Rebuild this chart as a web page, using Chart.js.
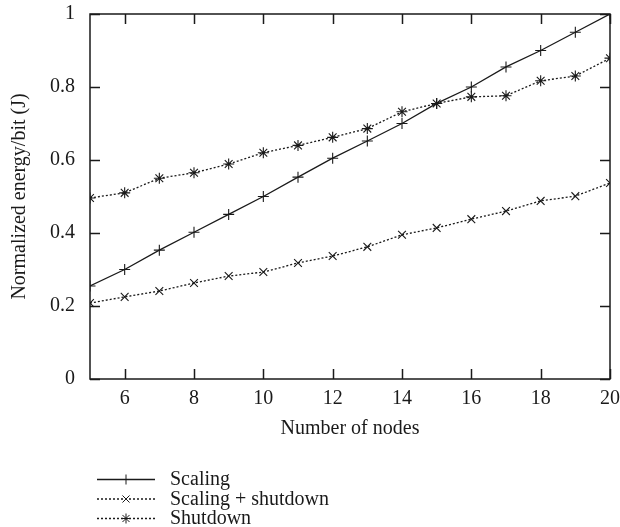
<!DOCTYPE html>
<html>
<head>
<meta charset="utf-8">
<script src="https://cdn.jsdelivr.net/npm/chart.js@4"></script>
<style>
  html, body { margin: 0; padding: 0; background: #fff; }
  #wrap { width: 620px; height: 527px; }
</style>
</head>
<body>
<div id="wrap"><canvas id="energy-chart" width="620" height="527"></canvas></div>
<script>
// --- Data ---
const nodes = [5, 6, 7, 8, 9, 10, 11, 12, 13, 14, 15, 16, 17, 18, 19, 20];
const scaling = [0.255, 0.30, 0.353, 0.402, 0.451, 0.50, 0.553, 0.605, 0.652, 0.70, 0.755, 0.80, 0.855, 0.90, 0.95, 1.0];
const scalingShutdown = [0.208, 0.225, 0.241, 0.263, 0.282, 0.293, 0.318, 0.337, 0.362, 0.395, 0.414, 0.438, 0.46, 0.488, 0.501, 0.537];
const shutdown = [0.496, 0.51, 0.55, 0.565, 0.589, 0.62, 0.64, 0.662, 0.686, 0.732, 0.755, 0.773, 0.776, 0.817, 0.83, 0.879];
const xTicks = [6, 8, 10, 12, 14, 16, 18, 20];
const yTicks = [0, 0.2, 0.4, 0.6, 0.8, 1];

const INK = '#1a1a1a';
const FONT = '"Liberation Serif", "DejaVu Serif", serif';
const FONT_SIZE = 20;

function series(label, values, pointStyle, dash) {
    return {
        label: label,
        data: nodes.map((n, i) => ({ x: n, y: values[i] })),
        borderColor: INK,
        backgroundColor: INK,
        borderWidth: 1.3,
        borderDash: dash,
        pointStyle: pointStyle,
        pointRadius: 5.5,
        pointBorderWidth: 1.1,
        pointBorderColor: INK,
        pointBackgroundColor: INK,
        tension: 0,
        fill: false
    };
}

// No extra room for overhanging tick labels; the layout padding handles it
function noOverhang(s) {
    s.paddingTop = 0;
    s.paddingBottom = 0;
    s.paddingLeft = 0;
    s.paddingRight = 0;
}

// Frame with inward ticks on all four sides (gnuplot style)
const frameTicks = {
    id: 'frameTicks',
    afterDatasetsDraw(chart) {
        const { ctx, chartArea: a, scales: { x, y } } = chart;
        const len = 10;
        ctx.save();
        ctx.strokeStyle = INK;
        ctx.lineWidth = 1.5;
        ctx.strokeRect(a.left, a.top, a.right - a.left, a.bottom - a.top);
        ctx.beginPath();
        xTicks.forEach(v => {
            const px = Math.round(x.getPixelForValue(v)) + 0.5;
            ctx.moveTo(px, a.bottom); ctx.lineTo(px, a.bottom - len);
            ctx.moveTo(px, a.top); ctx.lineTo(px, a.top + len);
        });
        yTicks.forEach(v => {
            const py = Math.round(y.getPixelForValue(v)) + 0.5;
            ctx.moveTo(a.left, py); ctx.lineTo(a.left + len, py);
            ctx.moveTo(a.right, py); ctx.lineTo(a.right - len, py);
        });
        ctx.stroke();
        ctx.restore();
    }
};

// Legend below the plot: line sample with marker, then label
const keyBox = {
    id: 'keyBox',
    afterDraw(chart) {
        const ctx = chart.ctx;
        const x0 = 97, x1 = 155, xm = 126, xt = 170;
        let yRow = 479;
        ctx.save();
        chart.data.datasets.forEach(ds => {
            ctx.strokeStyle = INK;
            ctx.lineWidth = ds.borderWidth;
            ctx.setLineDash(ds.borderDash || []);
            ctx.beginPath();
            ctx.moveTo(x0, yRow + 0.5);
            ctx.lineTo(x1, yRow + 0.5);
            ctx.stroke();
            ctx.setLineDash([]);
            ctx.lineWidth = 1;
            ctx.fillStyle = INK;
            Chart.helpers.drawPoint(ctx, { pointStyle: ds.pointStyle, radius: 5, borderWidth: 1, rotation: 0 }, xm, yRow + 0.5);
            ctx.font = FONT_SIZE + 'px ' + FONT;
            ctx.textBaseline = 'middle';
            ctx.textAlign = 'left';
            ctx.fillText(ds.label, xt, yRow + 1);
            yRow += 19.5;
        });
        ctx.restore();
    }
};

new Chart(document.getElementById('energy-chart'), {
    type: 'line',
    data: {
        datasets: [
            series('Scaling', scaling, 'cross', []),
            series('Scaling + shutdown', scalingShutdown, 'crossRot', [2, 2]),
            series('Shutdown', shutdown, 'star', [2, 2])
        ]
    },
    options: {
        responsive: false,
        animation: false,
        layout: { padding: { top: 14, right: 10, left: 0, bottom: 0 } },
        plugins: { legend: { display: false }, tooltip: { enabled: false } },
        scales: {
            x: {
                type: 'linear',
                min: 5,
                max: 20,
                afterBuildTicks: s => { s.ticks = xTicks.map(v => ({ value: v })); },
                afterFit: s => { s.height = 148; noOverhang(s); },
                grid: { display: false, drawTicks: false },
                border: { display: false },
                ticks: { color: INK, font: { family: FONT, size: FONT_SIZE }, padding: 8 },
                title: { display: true, text: 'Number of nodes', color: INK, font: { family: FONT, size: FONT_SIZE }, padding: { top: 86, bottom: 86 } }
            },
            y: {
                min: 0,
                max: 1,
                afterBuildTicks: s => { s.ticks = yTicks.map(v => ({ value: v })); },
                afterFit: s => { s.width = 90; noOverhang(s); },
                grid: { display: false, drawTicks: false },
                border: { display: false },
                ticks: { color: INK, font: { family: FONT, size: FONT_SIZE }, padding: 15, callback: v => String(v) },
                title: { display: true, text: 'Normalized energy/bit (J)', color: INK, font: { family: FONT, size: FONT_SIZE }, padding: { top: 8, bottom: 8 } }
            }
        }
    },
    plugins: [frameTicks, keyBox]
});
</script>
</body>
</html>
